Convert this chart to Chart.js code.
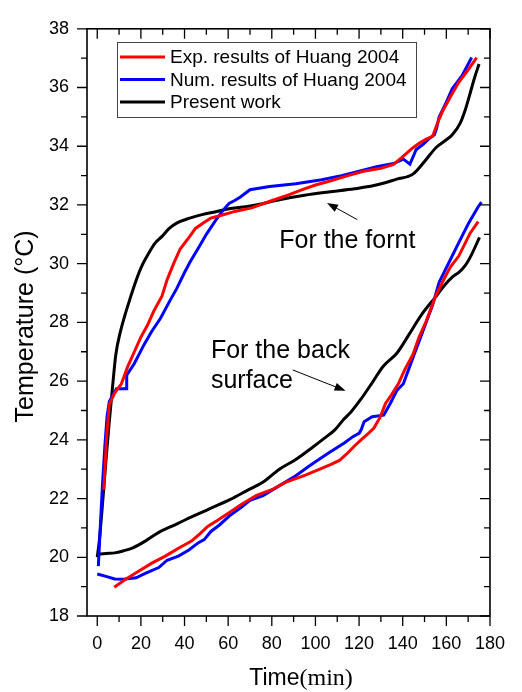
<!DOCTYPE html>
<html>
<head>
<meta charset="utf-8">
<script src="https://cdn.jsdelivr.net/npm/chart.js@4.4.0/dist/chart.umd.min.js"></script>
<style>
  html, body { margin: 0; padding: 0; background: #fff; }
  #wrap { width: 522px; height: 692px; }
</style>
</head>
<body>
<div id="wrap"><canvas id="tempchart"></canvas></div>
<script>
// front surface, experiment
var expFrontTime = [3, 4.2, 5.5, 8, 11, 14, 17, 20, 23, 26, 29.7, 32, 35, 38, 42.4, 45, 48.4, 52, 57.4, 63, 70.8, 80.5, 88, 94, 100, 105.9, 114.9, 122, 130, 135.8, 139.5, 144.7, 147.7, 151, 153.7, 156, 158.2, 162, 165.7, 170, 173.9];
var expFrontTemp = [22.3, 24.0, 25.2, 25.6, 25.9, 26.5, 27.0, 27.5, 27.9, 28.4, 28.9, 29.45, 30.0, 30.5, 30.93, 31.2, 31.38, 31.55, 31.66, 31.78, 31.9, 32.16, 32.35, 32.52, 32.68, 32.8, 33.0, 33.15, 33.25, 33.38, 33.61, 33.95, 34.11, 34.25, 34.34, 34.8, 35.18, 35.7, 36.18, 36.6, 37.02];
// back surface, experiment
var expBackTime = [7.8, 13, 19.3, 25, 31.2, 37, 43.2, 47, 50.6, 55, 61.1, 66, 73, 80, 86.5, 95.4, 102, 107.4, 111, 114.9, 118, 120.9, 124, 126.8, 129.8, 132.1, 135, 138, 141, 144.7, 147.5, 150.7, 155.2, 159.7, 162, 165.7, 170.9, 174.6];
var expBackTemp = [18.98, 19.25, 19.54, 19.8, 20.04, 20.3, 20.55, 20.8, 21.05, 21.25, 21.55, 21.8, 22.11, 22.3, 22.56, 22.8, 23.0, 23.17, 23.3, 23.56, 23.8, 24.0, 24.2, 24.4, 24.79, 25.24, 25.55, 25.91, 26.4, 26.91, 27.5, 28.03, 28.92, 29.59, 29.9, 30.26, 31.04, 31.43];

// front surface, numerical (Huang)
var numFrontTime = [0.5, 1.5, 2.5, 3.5, 4.5, 5.5, 7, 8.8, 13.3, 13.5, 17, 21.5, 25, 29, 33, 36.4, 40, 42.4, 46.9, 50, 54.4, 58, 60.4, 63, 65.6, 70, 79, 91, 102.9, 111.9, 120.9, 128, 135.8, 140.3, 143.3, 146.2, 149.2, 152, 154.5, 155.5, 156.7, 160, 162.7, 167.2, 171.6];
var numFrontTemp = [19.7, 21.2, 22.6, 23.8, 24.8, 25.3, 25.5, 25.74, 25.74, 26.2, 26.6, 27.25, 27.7, 28.14, 28.7, 29.15, 29.7, 30.04, 30.6, 31.0, 31.49, 31.85, 32.05, 32.15, 32.27, 32.52, 32.63, 32.72, 32.86, 33.0, 33.17, 33.3, 33.41, 33.56, 33.39, 33.89, 34.06, 34.25, 34.39, 34.6, 35.0, 35.5, 35.96, 36.4, 37.02];
// back surface, numerical (Huang)
var numBackTime = [0, 4, 8, 12, 17.8, 22, 28.2, 32, 37.2, 42, 46.2, 49, 52.1, 56, 61.1, 66, 70, 76, 83.5, 87, 91, 97, 100, 106, 113.4, 117, 120.1, 121, 122.3, 126, 131.3, 134.3, 137.3, 140.3, 144.7, 149.2, 153.7, 156.7, 161.2, 164.9, 170.2, 174.6, 176.1];
var numBackTemp = [19.43, 19.35, 19.26, 19.25, 19.3, 19.45, 19.65, 19.9, 20.04, 20.25, 20.49, 20.6, 20.88, 21.1, 21.44, 21.7, 21.94, 22.1, 22.44, 22.6, 22.78, 23.1, 23.25, 23.55, 23.9, 24.1, 24.23, 24.35, 24.62, 24.79, 24.84, 25.24, 25.68, 25.91, 26.8, 27.69, 28.59, 29.37, 30.04, 30.6, 31.38, 31.94, 32.1];

// present model
var preFrontTime = [0, 1, 2.5, 4, 5.5, 7, 8.5, 10.5, 12.5, 15, 17, 20, 23.7, 26.5, 29.7, 33, 36.4, 42.4, 48, 54.3, 61, 70.8, 83.5, 95, 105.9, 117.9, 126.8, 137.3, 144.7, 150, 155.2, 160, 162.7, 166.3, 168.5, 170.5, 173, 175];
var preFrontTemp = [20.0, 20.6, 21.9, 23.3, 24.6, 25.8, 26.9, 27.65, 28.2, 28.8, 29.26, 29.85, 30.37, 30.7, 30.93, 31.2, 31.38, 31.55, 31.67, 31.77, 31.88, 31.97, 32.18, 32.33, 32.44, 32.55, 32.66, 32.88, 33.05, 33.48, 33.95, 34.22, 34.39, 34.78, 35.2, 35.7, 36.35, 36.8];
var preBackTime = [0, 4, 8, 12, 16.3, 22, 28.2, 34, 40.2, 50, 61, 68.6, 76, 83.5, 91, 98.4, 104, 108.9, 113, 116.4, 121, 126.5, 131, 137.3, 143, 148.5, 155.2, 159, 162.7, 166, 168.6, 171.5, 175.2];
var preBackTemp = [20.1, 20.13, 20.15, 20.22, 20.32, 20.55, 20.85, 21.05, 21.27, 21.6, 21.97, 22.27, 22.56, 23.0, 23.33, 23.73, 24.05, 24.34, 24.7, 24.96, 25.4, 26.0, 26.5, 26.95, 27.6, 28.25, 28.88, 29.25, 29.54, 29.72, 29.93, 30.3, 30.9];

var seriesNames = ['Exp. results of Huang 2004', 'Num. results of Huang 2004', 'Present work'];
var seriesColors = ['#ff0000', '#0000ff', '#000000'];

var sans = '"Liberation Sans", Arial, sans-serif';
var serif = '"Liberation Serif", "Times New Roman", serif';

function pts(ts, ys) {
    return ts.map(function (t, i) { return { x: t, y: ys[i] }; });
}

function series(idx, ts, ys, inLegend) {
    return {
        label: seriesNames[idx],
        data: pts(ts, ys),
        borderColor: seriesColors[idx],
        backgroundColor: seriesColors[idx],
        borderWidth: 3,
        pointRadius: 0,
        showLine: true,
        fill: false,
        // the model output is a smooth curve, the Huang data are not
        cubicInterpolationMode: idx === 2 ? 'monotone' : 'default',
        tension: idx === 2 ? 0.4 : 0,
        inLegend: inLegend
    };
}

function arrow(ctx, x1, y1, x2, y2) {
    var a = Math.atan2(y2 - y1, x2 - x1);
    var hl = 11, hw = 4;
    ctx.beginPath();
    ctx.moveTo(x1, y1);
    ctx.lineTo(x2 - Math.cos(a) * hl * 0.8, y2 - Math.sin(a) * hl * 0.8);
    ctx.stroke();
    ctx.beginPath();
    ctx.moveTo(x2, y2);
    ctx.lineTo(x2 - Math.cos(a) * hl - Math.sin(a) * hw, y2 - Math.sin(a) * hl + Math.cos(a) * hw);
    ctx.lineTo(x2 - Math.cos(a) * hl + Math.sin(a) * hw, y2 - Math.sin(a) * hl - Math.cos(a) * hw);
    ctx.closePath();
    ctx.fill();
}

// frame, ticks on all four sides, legend box, notes and axis titles
var decorations = {
    id: 'decorations',
    afterDraw: function (chart) {
        var ctx = chart.ctx;
        var a = chart.chartArea;
        var xs = chart.scales.x, ys = chart.scales.y;
        ctx.save();
        ctx.strokeStyle = '#000';
        ctx.fillStyle = '#000';
        ctx.lineWidth = 1.6;
        ctx.strokeRect(a.left, a.top, a.right - a.left, a.bottom - a.top);

        ctx.lineWidth = 1.3;
        ctx.beginPath();
        xs.ticks.forEach(function (t) {
            if (t.value < 0) return;
            var px = xs.getPixelForValue(t.value);
            var len = t.value % 20 === 0 ? 10 : 6;
            ctx.moveTo(px, a.bottom); ctx.lineTo(px, a.bottom + len);
            ctx.moveTo(px, a.top); ctx.lineTo(px, a.top + len);
        });
        ys.ticks.forEach(function (t) {
            var py = ys.getPixelForValue(t.value);
            var len = t.value % 2 === 0 ? 10 : 6;
            ctx.moveTo(a.left - len, py); ctx.lineTo(a.left, py);
            ctx.moveTo(a.right - len, py); ctx.lineTo(a.right, py);
        });
        ctx.stroke();

        // legend
        ctx.lineWidth = 1;
        ctx.strokeStyle = '#444';
        ctx.strokeRect(117.5, 42.5, 299, 75);
        ctx.font = '19px ' + sans;
        ctx.textBaseline = 'middle';
        ctx.textAlign = 'left';
        var rows = chart.data.datasets.filter(function (d) { return d.inLegend; });
        rows.forEach(function (d, i) {
            var y = 57 + i * 22.5;
            ctx.strokeStyle = d.borderColor;
            ctx.lineWidth = 3;
            ctx.beginPath();
            ctx.moveTo(120, y); ctx.lineTo(165, y);
            ctx.stroke();
            ctx.fillStyle = '#000';
            ctx.fillText(d.label, 170, y + 1);
        });

        // notes with arrows
        ctx.fillStyle = '#000';
        ctx.strokeStyle = '#000';
        ctx.lineWidth = 1;
        ctx.font = '25px ' + sans;
        ctx.textBaseline = 'alphabetic';
        ctx.fillText('For the fornt', xs.getPixelForValue(83.4), ys.getPixelForValue(30.53));
        ctx.fillText('For the back', xs.getPixelForValue(52.1), ys.getPixelForValue(26.78));
        ctx.fillText('surface', xs.getPixelForValue(52.1), ys.getPixelForValue(25.77));
        arrow(ctx, xs.getPixelForValue(119.2), ys.getPixelForValue(31.5),
            xs.getPixelForValue(105.3), ys.getPixelForValue(32.07));
        arrow(ctx, xs.getPixelForValue(89.6), ys.getPixelForValue(26.38),
            xs.getPixelForValue(113.8), ys.getPixelForValue(25.67));

        // y title
        ctx.save();
        ctx.translate(26, (a.top + a.bottom) / 2 + 4);
        ctx.rotate(-Math.PI / 2);
        ctx.textAlign = 'center';
        ctx.textBaseline = 'middle';
        ctx.font = '25px ' + sans;
        ctx.fillText('Temperature (\u00B0C)', 0, 0);
        ctx.restore();

        // x title, mixed fonts
        ctx.textBaseline = 'alphabetic';
        ctx.font = '23px ' + sans;
        var w1 = ctx.measureText('Time').width;
        ctx.font = '24px ' + serif;
        var w2 = ctx.measureText('(min)').width;
        var x0 = 301 - (w1 + w2) / 2;
        ctx.font = '23px ' + sans;
        ctx.fillText('Time', x0, 685);
        ctx.font = '24px ' + serif;
        ctx.fillText('(min)', x0 + w1, 685);
        ctx.restore();
    }
};

var ctx = document.getElementById('tempchart');
var myChart = new Chart(ctx, {
    type: 'scatter',
    data: {
        datasets: [
            series(0, expFrontTime, expFrontTemp, true),
            series(1, numFrontTime, numFrontTemp, true),
            series(2, preFrontTime, preFrontTemp, true),
            series(0, expBackTime, expBackTemp, false),
            series(1, numBackTime, numBackTemp, false),
            series(2, preBackTime, preBackTemp, false)
        ]
    },
    options: {
        responsive: true,
        maintainAspectRatio: false,
        animation: false,
        layout: { padding: { top: 19, right: 23, left: 0, bottom: 0 } },
        plugins: {
            legend: { display: false },
            tooltip: { enabled: false }
        },
        scales: {
            x: {
                type: 'linear',
                min: -4.7,
                max: 180,
                afterFit: function (s) { s.height = 76; },
                grid: { display: false, drawTicks: false },
                border: { display: false },
                ticks: {
                    stepSize: 10,
                    includeBounds: false,
                    autoSkip: false,
                    maxRotation: 0,
                    padding: 17,
                    color: '#000',
                    font: { family: sans, size: 18 },
                    callback: function (v) { return v % 20 === 0 ? v : ''; }
                }
            },
            y: {
                min: 18,
                max: 38,
                afterFit: function (s) { s.width = 87; },
                grid: { display: false, drawTicks: false },
                border: { display: false },
                ticks: {
                    stepSize: 1,
                    includeBounds: false,
                    autoSkip: false,
                    padding: 18,
                    color: '#000',
                    font: { family: sans, size: 18 },
                    callback: function (v) { return v % 2 === 0 ? v : ''; }
                }
            }
        }
    },
    plugins: [decorations]
});
</script>
</body>
</html>
